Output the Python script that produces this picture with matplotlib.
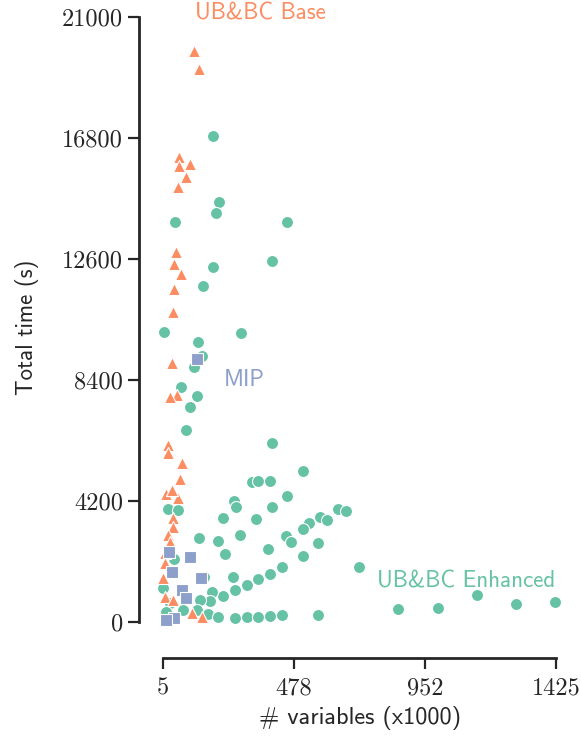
import numpy as np
import matplotlib
matplotlib.use("Agg")
import matplotlib.pyplot as plt

plt.rcParams['font.family'] = 'serif'
plt.rcParams['font.serif'] = ['cmr10', 'DejaVu Serif']
plt.rcParams['axes.unicode_minus'] = False
plt.rcParams['axes.formatter.use_mathtext'] = False

# number of variables (x1000) and total time (s) per instance
enh_vars = [186, 207, 196, 48, 453, 399, 186, 150, 9, 287, 131, 146, 117, 70, 128, 103, 88,
            399, 511, 327, 348, 392, 262, 269, 453, 399, 23, 59, 222, 341, 637, 666, 572, 598,
            532, 511, 449, 467, 565, 135, 204, 283, 384, 511, 229, 45, 713, 435, 392, 348,
            308, 258, 153, 265, 222, 182, 175, 139, 5, 30, 77, 128, 168, 204, 265, 308, 348,
            392, 435, 565, 854, 999, 1140, 1280, 1421, 16]
enh_time = [16870, 14580, 14200, 13880, 13880, 12530, 12320, 11660, 10070, 10030, 9720, 9230,
            8850, 8160, 7840, 7460, 6660, 6210, 5240, 4860, 4890, 4890, 4200, 3990, 4370, 3990,
            3920, 3890, 3610, 3580, 3920, 3850, 3650, 3540, 3440, 3230, 2990, 2780, 2740, 2920,
            2810, 3020, 2530, 2290, 2360, 2190, 1910, 1910, 1670, 1490, 1280, 1560, 1560, 1110,
            900, 1040, 730, 760, 1180, 660, 420, 420, 280, 170, 140, 170, 170, 210, 240, 240,
            450, 490, 940, 630, 690, 350]

base_vars = [117, 135, 63, 63, 103, 88, 59, 52, 45, 70, 45, 41, 38, 56, 30, 23, 23, 74, 66,
             16, 59, 38, 41, 41, 23, 30, 12, 12, 5, 12, 41, 110, 146, 12]
base_time = [19820, 19200, 16140, 15830, 15900, 15450, 15100, 12840, 12430, 12080, 11560,
             10760, 8990, 7880, 7810, 6140, 5870, 5520, 4960, 4440, 4300, 4580, 3610, 3300,
             3020, 2780, 2400, 2050, 1530, 870, 760, 310, 170, 70]

mip_vars = [128, 27, 103, 38, 142, 74, 88, 45, 16]
mip_time = [9130, 2430, 2260, 1740, 1530, 1110, 830, 140, 70]

green, orange, blue = "#66c2a5", "#fc8d62", "#8da0cb"
dark = "#262626"
sans = "cmss10"

fig = plt.figure(figsize=(5.81, 7.44), dpi=100)
ax = fig.add_axes([0.258, 0.133, 0.723, 0.854])

kw = dict(edgecolor="white", linewidth=0.8, zorder=3)
ax.scatter(enh_vars, enh_time, c=green, marker="o", s=75, **kw)
ax.scatter(base_vars, base_time, c=orange, marker="^", s=75, **kw)
ax.scatter(mip_vars, mip_time, c=blue, marker="s", s=70, **kw)

ax.text(120, 21100, "UB&BC Base", color=orange, fontsize=16.5, va="center", family=sans)
ax.text(225, 8400, "MIP", color=blue, fontsize=16.5, va="center", family=sans)
ax.text(778, 1420, "UB&BC Enhanced", color=green, fontsize=16.5, va="center", family=sans)

ax.set_xlim(-42, 1475)
ax.set_ylim(-800, 21250)
ax.set_xticks([5, 478, 952, 1425])
ax.set_yticks([0, 4200, 8400, 12600, 16800, 21000])
ax.set_xticklabels(["5", "478", "952", "1425"])
ax.set_yticklabels(["0", "4200", "8400", "12600", "16800", "21000"])
ax.tick_params(labelsize=17.5, length=8, width=1.6, color=dark, labelcolor=dark)
ax.tick_params(axis="x", pad=6)

for side in ["top", "right"]:
    ax.spines[side].set_visible(False)
ax.spines["left"].set_position(("outward", 8))
ax.spines["bottom"].set_position(("outward", 9))
ax.spines["left"].set_bounds(0, 21000)
ax.spines["bottom"].set_bounds(5, 1425)
for side in ["left", "bottom"]:
    ax.spines[side].set_linewidth(2)
    ax.spines[side].set_color(dark)

ax.set_xlabel("# variables (x1000)", fontsize=17.5, color=dark, family=sans, labelpad=5)
ax.set_ylabel("Total time (s)", fontsize=16.5, color=dark, family=sans, labelpad=16)

plt.savefig("out.png", dpi=100)
